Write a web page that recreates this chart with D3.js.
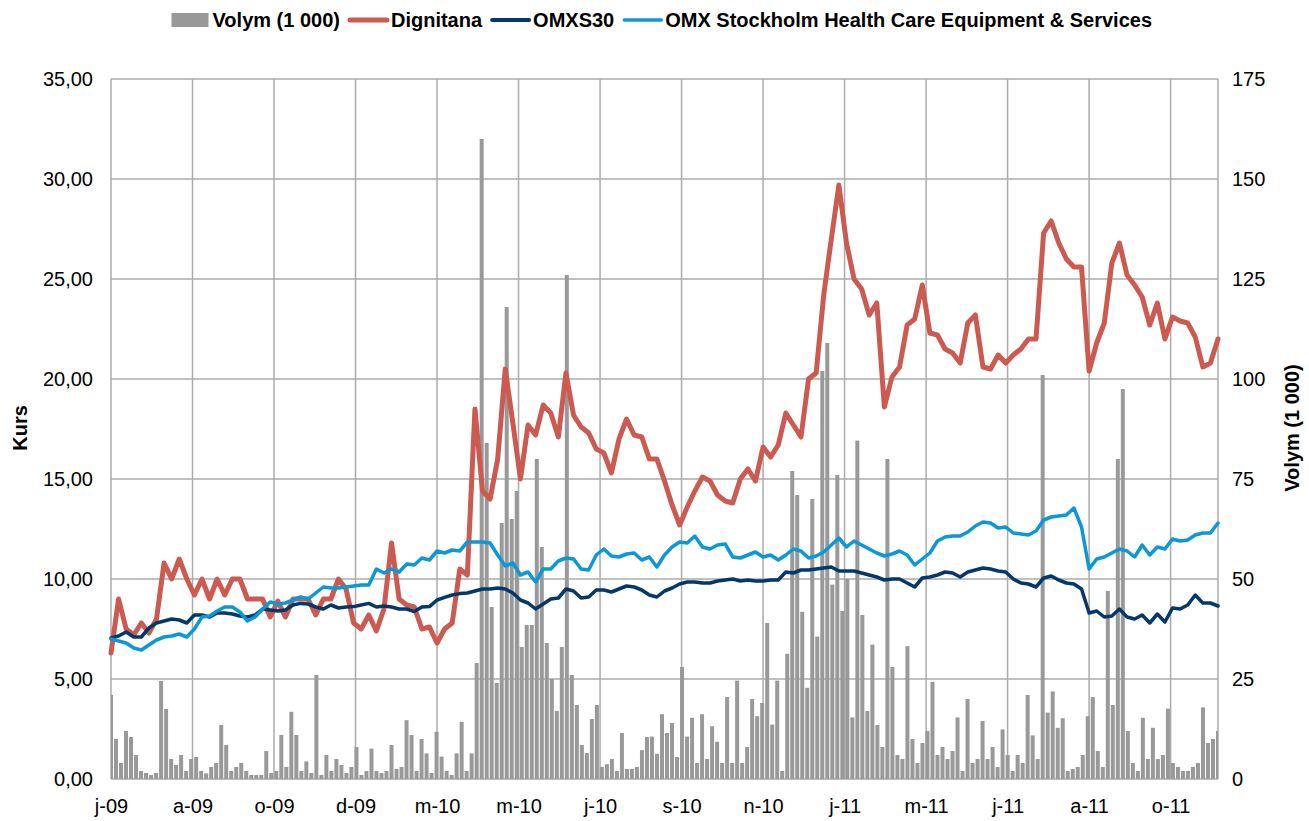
<!DOCTYPE html>
<html>
<head>
<meta charset="utf-8">
<script src="https://cdn.jsdelivr.net/npm/d3@7"></script>
<style>
  body { margin: 0; background: #fff; }
  text { font-family: "Liberation Sans", Arial, sans-serif; fill: #000; }
</style>
</head>
<body>
<svg id="chart"></svg>
<script>
// x axis: one label every 43 trading days
const xTickLabels = ["j-09", "a-09", "o-09", "d-09", "m-10", "m-10", "j-10", "s-10", "n-10", "j-11", "m-11", "j-11", "a-11", "o-11"];
const kursTicks = [0, 5, 10, 15, 20, 25, 30, 35];
const volymTicks = [0, 25, 50, 75, 100, 125, 150, 175];

// closing prices, every 4th trading day
const dignitana = [
  6.3, 9.0, 7.5, 7.2, 7.8, 7.3, 8.0, 10.8, 10.0, 11.0,
  10.0, 9.2, 10.0, 9.0, 10.0, 9.2, 10.0, 10.0, 9.0, 9.0,
  9.0, 8.1, 8.9, 8.1, 9.0, 9.0, 9.0, 8.2, 9.0, 9.0,
  10.0, 9.5, 7.8, 7.5, 8.2, 7.4, 8.5, 11.8, 9.0, 8.7,
  8.6, 7.5, 7.6, 6.8, 7.5, 7.8, 10.5, 10.2, 18.5, 14.4,
  14.0, 16.0, 20.5, 17.8, 15.0, 17.7, 17.2, 18.7, 18.3, 17.1,
  20.3, 18.2, 17.6, 17.3, 16.5, 16.3, 15.3, 17.0, 18.0, 17.2,
  17.1, 16.0, 16.0, 14.9, 13.7, 12.7, 13.6, 14.4, 15.1, 14.9,
  14.2, 13.9, 13.8, 15.0, 15.5, 14.9, 16.6, 16.1, 16.7, 18.3,
  17.7, 17.1, 20.0, 20.3, 24.2, 27.0, 29.7, 26.8, 25.0, 24.5,
  23.2, 23.8, 18.6, 20.1, 20.6, 22.7, 23.0, 24.7, 22.3, 22.2,
  21.5, 21.3, 20.8, 22.8, 23.2, 20.6, 20.5, 21.2, 20.8, 21.2,
  21.5, 22.0, 22.0, 27.3, 27.9, 26.8, 26.0, 25.6, 25.6, 20.4,
  21.8, 22.8, 25.8, 26.8, 25.2, 24.7, 24.1, 22.7, 23.8, 22.0,
  23.1, 22.9, 22.8, 22.1, 20.6, 20.8, 22.0
];
const omxs30 = [
  7.05, 7.15, 7.35, 7.1, 7.1, 7.55, 7.8, 7.9, 8.0, 7.95,
  7.8, 8.2, 8.2, 8.1, 8.3, 8.3, 8.25, 8.15, 8.1, 8.2,
  8.5, 8.45, 8.4, 8.45, 8.7, 8.78, 8.75, 8.6, 8.5, 8.7,
  8.55, 8.6, 8.62, 8.7, 8.78, 8.6, 8.65, 8.6, 8.5, 8.5,
  8.37, 8.6, 8.62, 8.95, 9.08, 9.2, 9.27, 9.3, 9.4, 9.5,
  9.5, 9.55, 9.5, 9.3, 8.95, 8.8, 8.5, 8.75, 9.0, 9.05,
  9.5, 9.4, 9.05, 9.1, 9.45, 9.45, 9.35, 9.5, 9.65, 9.6,
  9.45, 9.2, 9.1, 9.4, 9.55, 9.75, 9.85, 9.85, 9.8, 9.8,
  9.9, 9.95, 10.0, 9.9, 9.95, 9.9, 9.9, 9.95, 9.95, 10.35,
  10.3, 10.45, 10.45, 10.5, 10.55, 10.6, 10.4, 10.4, 10.4, 10.3,
  10.2, 10.1, 9.95, 10.0, 10.0, 9.8, 9.6, 10.05, 10.1, 10.2,
  10.35, 10.3, 10.1, 10.35, 10.45, 10.55, 10.5, 10.4, 10.35, 10.0,
  9.8, 9.75, 9.6, 10.05, 10.15, 9.95, 9.8, 9.75, 9.5, 8.3,
  8.4, 8.1, 8.15, 8.5, 8.1, 8.0, 8.2, 7.8, 8.25, 7.85,
  8.55, 8.5, 8.7, 9.2, 8.8, 8.8, 8.65
];
const healthCare = [
  7.0, 6.9, 6.8, 6.55, 6.45, 6.7, 6.95, 7.1, 7.15, 7.25,
  7.1, 7.5, 8.1, 8.15, 8.4, 8.6, 8.6, 8.35, 7.9, 8.1,
  8.5, 8.85, 8.75, 8.8, 8.95, 9.1, 9.0, 9.3, 9.6, 9.55,
  9.55, 9.6, 9.65, 9.7, 9.7, 10.5, 10.3, 10.5, 10.35, 10.75,
  10.7, 11.05, 10.95, 11.4, 11.3, 11.45, 11.4, 11.85, 11.85, 11.85,
  11.8, 11.2, 10.65, 10.8, 10.2, 10.35, 9.85, 10.5, 10.5, 10.9,
  11.05, 11.0, 10.5, 10.45, 11.2, 11.5, 11.15, 11.1, 11.25, 11.3,
  10.95, 11.1, 10.6, 11.2, 11.6, 11.85, 11.8, 12.15, 11.6, 11.5,
  11.7, 11.75, 11.1, 11.05, 11.2, 11.35, 11.1, 11.2, 10.95, 11.2,
  11.5, 11.4, 11.05, 11.15, 11.35, 11.7, 12.05, 11.6, 11.9, 11.7,
  11.5, 11.3, 11.15, 11.25, 11.4, 11.2, 10.7, 11.0, 11.3, 11.9,
  12.1, 12.15, 12.15, 12.35, 12.65, 12.85, 12.8, 12.55, 12.6, 12.3,
  12.25, 12.2, 12.4, 12.95, 13.1, 13.15, 13.2, 13.55, 12.6, 10.5,
  11.0, 11.1, 11.3, 11.5, 11.4, 11.1, 11.7, 11.2, 11.6, 11.5,
  12.0, 11.9, 11.95, 12.2, 12.3, 12.3, 12.8
];
// traded volume in thousands
const volym = [
  21, 10, 4, 12, 10.5, 6, 2, 1.5, 1, 1.5,
  24.5, 17.5, 5, 3.5, 6, 2, 5, 5.5, 2, 1.4,
  3, 4, 13.5, 8.5, 2, 3, 4, 2, 1, 1,
  1, 7, 1.5, 2, 11, 3, 16.8, 11, 2, 4.4,
  1.5, 26, 1, 6, 2, 5, 3.5, 1.5, 3, 8,
  1, 2, 7.6, 2, 1.5, 2, 8.5, 2.5, 3, 14.7,
  11, 2, 10, 6.4, 1.5, 11.8, 5.6, 2, 1, 6.4,
  14.3, 2, 6.4, 29, 160, 84, 43, 24, 64, 118,
  65, 72, 33, 38.5, 38.5, 80, 58, 34, 25, 17,
  33, 126, 26, 18.5, 8.5, 6.5, 15, 18.5, 3, 3.7,
  5, 2, 11.5, 2.5, 2.5, 3, 7.2, 10.5, 10.6, 6.3,
  16.2, 11.5, 14, 5.5, 28, 10.6, 15.3, 4, 16.2, 5,
  13.2, 9.3, 4, 20.5, 4, 24.6, 4, 8, 20, 15.7,
  19, 39, 13.6, 24.6, 2, 31.3, 77, 71, 41.8, 22.8,
  70, 35.6, 102, 109, 48.6, 76, 42, 50, 15.4, 84.6,
  41, 17, 33.6, 13.5, 8, 80, 28, 6, 5, 33.2,
  10, 4, 9, 12, 24.3, 6, 8, 5, 7, 15.4,
  2, 20, 4, 5, 14.5, 5, 8, 3, 12.4, 6,
  2, 6, 4, 21, 10.9, 5, 101, 16.6, 21.9, 12.8,
  15.2, 2, 2.5, 3, 6, 15.7, 20.5, 7, 3, 47,
  18.5, 80, 97.5, 12, 4, 2, 15.3, 5, 12.8, 5,
  6, 17.6, 4, 3, 2, 2, 3, 4, 17.9, 9,
  10, 12
];

const lastDay = 584;
const tickEvery = 43;

const width = 1309, height = 821;
const plot = { left: 111, right: 1218, top: 79, bottom: 779 };

const svg = d3.select("#chart").attr("width", width).attr("height", height);

const x = d3.scaleLinear().domain([0, lastDay]).range([plot.left, plot.right]);
const yKurs = d3.scaleLinear().domain([0, 35]).range([plot.bottom, plot.top]);
const yVol = d3.scaleLinear().domain([0, 175]).range([plot.bottom, plot.top]);
const tickDays = xTickLabels.map((d, i) => i * tickEvery);

svg.append("defs").append("clipPath").attr("id", "plotClip")
  .append("rect")
  .attr("x", plot.left).attr("y", plot.top)
  .attr("width", plot.right - plot.left).attr("height", plot.bottom - plot.top);

// grid
const grid = svg.append("g").attr("stroke", "#ababab").attr("stroke-width", 1.5);
grid.selectAll("line.h").data(kursTicks).join("line")
  .attr("class", "h")
  .attr("x1", plot.left).attr("x2", plot.right)
  .attr("y1", d => yKurs(d)).attr("y2", d => yKurs(d));
grid.selectAll("line.v").data(tickDays.concat([lastDay])).join("line")
  .attr("class", "v")
  .attr("x1", d => x(d)).attr("x2", d => x(d))
  .attr("y1", plot.top).attr("y2", plot.bottom);

// volume bars
const volStep = lastDay / (volym.length - 1);
const barW = (x(volStep) - x(0)) * 0.8;
svg.append("g").attr("clip-path", "url(#plotClip)")
  .selectAll("rect").data(volym).join("rect")
  .attr("x", (d, i) => x(i * volStep) - barW / 2)
  .attr("y", d => yVol(d))
  .attr("width", barW)
  .attr("height", d => yVol(0) - yVol(d))
  .attr("fill", "#999999");

// price lines
const series = [
  { values: dignitana, color: "#cd5a50", w: 5 },
  { values: omxs30, color: "#05386a", w: 3.5 },
  { values: healthCare, color: "#0a98d8", w: 3.5 }
];
series.forEach(s => {
  const step = lastDay / (s.values.length - 1);
  const line = d3.line().x((d, i) => x(i * step)).y(d => yKurs(d));
  svg.append("path").datum(s.values)
    .attr("d", line)
    .attr("fill", "none")
    .attr("stroke", s.color)
    .attr("stroke-width", s.w)
    .attr("stroke-linejoin", "round")
    .attr("stroke-linecap", "round");
});

// axes
const comma = d => d3.format(".2f")(d).replace(".", ",");
const left = svg.append("g").attr("transform", `translate(${plot.left},0)`)
  .call(d3.axisLeft(yKurs).tickValues(kursTicks).tickFormat(comma).tickSize(0).tickPadding(18));
const right = svg.append("g").attr("transform", `translate(${plot.right},0)`)
  .call(d3.axisRight(yVol).tickValues(volymTicks).tickSize(0).tickPadding(14));
const bottom = svg.append("g").attr("transform", `translate(0,${plot.bottom})`)
  .call(d3.axisBottom(x).tickValues(tickDays).tickFormat((d, i) => xTickLabels[i]).tickSize(0).tickPadding(20));
[left, right, bottom].forEach(g => {
  g.select(".domain").remove();
  g.selectAll("text").attr("font-size", 20).attr("font-family", null).attr("fill", "#000");
});

svg.append("text")
  .attr("transform", "translate(20,428) rotate(-90)")
  .attr("text-anchor", "middle").attr("dominant-baseline", "central")
  .attr("font-size", 20).attr("font-weight", "bold")
  .text("Kurs");
svg.append("text")
  .attr("transform", "translate(1292,428) rotate(-90)")
  .attr("text-anchor", "middle").attr("dominant-baseline", "central")
  .attr("font-size", 20).attr("font-weight", "bold")
  .text("Volym (1 000)");

// legend
const legendItems = [
  { name: "Volym (1 000)", color: "#999999", type: "bar" },
  { name: "Dignitana", color: "#cd5a50", type: "line", w: 5 },
  { name: "OMXS30", color: "#05386a", type: "line", w: 4 },
  { name: "OMX Stockholm Health Care Equipment & Services", color: "#0a98d8", type: "line", w: 3.5 }
];
const legend = svg.append("g");
let lx = 171.5;
const ly = 20;
legendItems.forEach(item => {
  if (item.type === "bar") {
    legend.append("rect").attr("x", lx).attr("y", ly - 7).attr("width", 37).attr("height", 14).attr("fill", item.color);
  } else {
    legend.append("line").attr("x1", lx).attr("x2", lx + 37).attr("y1", ly).attr("y2", ly)
      .attr("stroke", item.color).attr("stroke-width", item.w).attr("stroke-linecap", "round");
  }
  const t = legend.append("text")
    .attr("x", lx + 41).attr("y", ly).attr("dy", "0.35em")
    .attr("font-size", 20).attr("font-weight", "bold")
    .text(item.name);
  lx += 41 + t.node().getComputedTextLength() + 10;
});
</script>
</body>
</html>
